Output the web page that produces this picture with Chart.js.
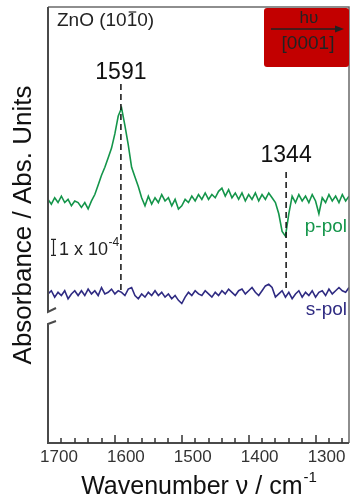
<!DOCTYPE html>
<html><head><meta charset="utf-8">
<script src="https://cdn.jsdelivr.net/npm/chart.js@4/dist/chart.umd.min.js"></script>
<style>html,body{margin:0;padding:0;background:#fff}#wrap{width:352px;height:502px}</style>
</head><body><div id="wrap"><canvas id="c" width="352" height="502"></canvas></div>
<script>
// Wavenumbers (cm^-1), read at 5 cm^-1 steps
const wavenumbers = [1700,1695,1690,1685,1680,1675,1670,1665,1660,1655,1650,1645,1640,1635,1630,1625,1620,1615,1610,1605,
1600,1595,1590,1585,1580,1575,1570,1565,1560,1555,1550,1545,1540,1535,1530,1525,1520,1515,1510,1505,
1500,1495,1490,1485,1480,1475,1470,1465,1460,1455,1450,1445,1440,1435,1430,1425,1420,1415,1410,1405,
1400,1395,1390,1385,1380,1375,1370,1365,1360,1355,1350,1345,1340,1335,1330,1325,1320,1315,1310,1305,
1300,1295,1290,1285,1280,1275,1270,1265,1260,1255,1250];
// Absorbance (offset traces, units of 1e-5 Abs)
const pPol = [152,149,153,150,154,150,152,148,151,150,
147,150,146,151,155,161,167,172,178,184,
193,204,209,198,186,172,166,160,153,148,
154,149,153,150,155,151,153,148,152,146,
148,152,150,154,151,155,152,156,152,155,
153,157,159,154,158,153,156,152,156,151,
155,152,156,151,155,152,156,153,150,143,
132,129,143,154,150,155,151,154,150,155,
151,143,153,150,155,151,154,150,155,151,154];
const sPol = [93,95,91,94,92,95,90,93,95,92,
95,92,96,93,95,92,97,93,94,96,
93,95,94,92,96,97,92,90,93,91,
94,92,95,92,94,91,93,90,92,89,
87,91,94,92,95,93,92,95,93,91,
94,92,95,93,96,94,92,95,96,93,
95,97,94,92,95,98,99,97,91,93,
95,91,94,90,93,95,91,94,92,95,
91,94,95,92,96,93,95,97,95,94,97];
const tickLabels = [1700,1600,1500,1400,1300];
const minorTicks = [1680,1660,1640,1620,1600,1580,1560,1540,1520,1500,1480,1460,1440,1420,1400,1380,1360,1340,1320,1300,1280,1260];
const peaks = [{wn:1591, label:'1591', top:224, bottom:94, labelY:231},
               {wn:1344, label:'1344', top:169, bottom:96, labelY:179}];
const scaleBar = {base:117, value:10, text:'1 x 10', sup:'-4'};

const FONT = '"Liberation Sans", Arial, Helvetica, sans-serif';
const GREEN = '#14954a';
const BLUE = '#2f2b82';

const annot = {
  id:'annot',
  afterDraw(chart){
    const ctx = chart.ctx, a = chart.chartArea;
    const xs = chart.scales.x, ys = chart.scales.y;
    ctx.save();
    ctx.setLineDash([]);
    // frame: top and right
    ctx.strokeStyle = '#6a6a6a'; ctx.lineWidth = 1.5;
    ctx.beginPath(); ctx.moveTo(a.left, a.top); ctx.lineTo(a.right, a.top); ctx.lineTo(a.right, a.bottom); ctx.stroke();
    // left axis with break, bottom axis
    ctx.strokeStyle = '#4a4a4a'; ctx.lineWidth = 2;
    ctx.beginPath();
    ctx.moveTo(a.left, a.top); ctx.lineTo(a.left, 312); ctx.lineTo(a.left+8, 308);
    ctx.moveTo(a.left+8, 321); ctx.lineTo(a.left, 324); ctx.lineTo(a.left, a.bottom); ctx.lineTo(a.right, a.bottom);
    ctx.stroke();
    // inward ticks
    ctx.strokeStyle = '#333'; ctx.lineWidth = 1.5;
    ctx.beginPath();
    for (const t of minorTicks) {
      const px = Math.round(xs.getPixelForValue(t));
      const len = (t % 100 === 0) ? 8 : 5;
      ctx.moveTo(px, a.bottom); ctx.lineTo(px, a.bottom - len);
    }
    ctx.stroke();
    // dashed peak markers
    ctx.strokeStyle = '#111'; ctx.lineWidth = 1.5; ctx.setLineDash([6,4]);
    peaks.forEach(p=>{
      const px = xs.getPixelForValue(p.wn);
      ctx.beginPath(); ctx.moveTo(px, ys.getPixelForValue(p.top)); ctx.lineTo(px, ys.getPixelForValue(p.bottom)); ctx.stroke();
    });
    ctx.setLineDash([]);
    ctx.fillStyle = '#111'; ctx.textAlign = 'center'; ctx.textBaseline = 'middle';
    ctx.font = '23px ' + FONT;
    peaks.forEach(p=>{ ctx.fillText(p.label, xs.getPixelForValue(p.wn), ys.getPixelForValue(p.labelY)); });
    // series labels
    ctx.font = '19px ' + FONT; ctx.textAlign = 'right';
    ctx.fillStyle = GREEN; ctx.fillText('p-pol', 347, 227);
    ctx.fillStyle = BLUE; ctx.fillText('s-pol', 347, 310);
    // scale bar
    const y0 = ys.getPixelForValue(scaleBar.base), y1 = ys.getPixelForValue(scaleBar.base + scaleBar.value);
    ctx.strokeStyle = '#222'; ctx.lineWidth = 1.2;
    ctx.beginPath();
    ctx.moveTo(53.5, y0); ctx.lineTo(53.5, y1);
    ctx.moveTo(51, y0); ctx.lineTo(56, y0); ctx.moveTo(51, y1); ctx.lineTo(56, y1);
    ctx.stroke();
    ctx.fillStyle = '#222'; ctx.textAlign = 'left'; ctx.textBaseline = 'alphabetic';
    ctx.font = '18px ' + FONT;
    ctx.fillText(scaleBar.text, 59, y0);
    const w = ctx.measureText(scaleBar.text).width;
    ctx.font = '12px ' + FONT;
    ctx.fillText(scaleBar.sup, 59 + w + 0.5, y0 - 9);
    // ZnO label
    ctx.font = '19px ' + FONT; ctx.fillStyle = '#222'; ctx.textBaseline = 'middle';
    let x = 57; const ty = 21;
    const parts = ['ZnO (1','0','1','0)'];
    parts.forEach((s,i)=>{
      ctx.fillText(s, x, ty);
      const sw = ctx.measureText(s).width;
      if (i === 2) { ctx.lineWidth = 1.2; ctx.beginPath(); ctx.moveTo(x+2, ty-9); ctx.lineTo(x+sw-1, ty-9); ctx.stroke(); }
      x += sw;
    });
    // red box
    ctx.fillStyle = '#c20000';
    ctx.beginPath(); ctx.roundRect(264, 8, 85, 59, 3); ctx.fill();
    ctx.fillStyle = '#222'; ctx.textAlign = 'center'; ctx.textBaseline = 'middle';
    ctx.font = '17px ' + FONT; ctx.fillText('h\u03C5', 309, 18);
    ctx.font = '19px ' + FONT; ctx.fillText('[0001]', 308, 44);
    ctx.strokeStyle = '#222'; ctx.lineWidth = 1.3;
    ctx.beginPath(); ctx.moveTo(271, 29); ctx.lineTo(337, 29); ctx.stroke();
    ctx.beginPath(); ctx.moveTo(344, 29); ctx.lineTo(335, 25.5); ctx.lineTo(335, 32.5); ctx.closePath(); ctx.fill();
    // x title
    ctx.fillStyle = '#111'; ctx.font = '25px ' + FONT; ctx.textBaseline = 'alphabetic'; ctx.textAlign = 'left';
    const main = 'Wavenumber \u03BD / cm';
    const mw = ctx.measureText(main).width;
    ctx.font = '15px ' + FONT; const supw = ctx.measureText('-1').width;
    const sx = (a.left + a.right)/2 - (mw + supw)/2;
    ctx.font = '25px ' + FONT; ctx.fillText(main, sx, 494);
    ctx.font = '15px ' + FONT; ctx.fillText('-1', sx + mw + 1, 482);
    // y title
    ctx.save();
    ctx.translate(24, (a.top + a.bottom)/2);
    ctx.rotate(-Math.PI/2);
    ctx.font = '26px ' + FONT; ctx.textAlign = 'center'; ctx.textBaseline = 'middle';
    ctx.fillText('Absorbance / Abs. Units', 0, 0);
    ctx.restore();
    ctx.restore();
  }
};

new Chart(document.getElementById('c'), {
  type:'line',
  data:{datasets:[
    {label:'p-pol', data: wavenumbers.map((w,i)=>({x:w, y:pPol[i]})), borderColor:GREEN, borderWidth:1.6, pointRadius:0, tension:0, fill:false},
    {label:'s-pol', data: wavenumbers.map((w,i)=>({x:w, y:sPol[i]})), borderColor:BLUE, borderWidth:1.6, pointRadius:0, tension:0, fill:false}
  ]},
  options:{
    responsive:false, animation:false, devicePixelRatio:1,
    layout:{padding:{left:48, right:3, top:7, bottom:0}},
    plugins:{legend:{display:false}, tooltip:{enabled:false}, title:{display:false}},
    scales:{
      x:{type:'linear', reverse:true, min:1250, max:1700,
        afterBuildTicks: s => { s.ticks = tickLabels.map(v=>({value:v})); },
        afterFit: s => { s.height = 59; },
        grid:{display:false, drawTicks:false}, border:{display:false},
        ticks:{padding:4, labelOffset:11, color:'#333', font:{family:FONT, size:17}, autoSkip:false, maxRotation:0, callback: v => String(v)}
      },
      y:{display:false, min:0, max:272}
    }
  },
  plugins:[annot]
});
</script></body></html>
